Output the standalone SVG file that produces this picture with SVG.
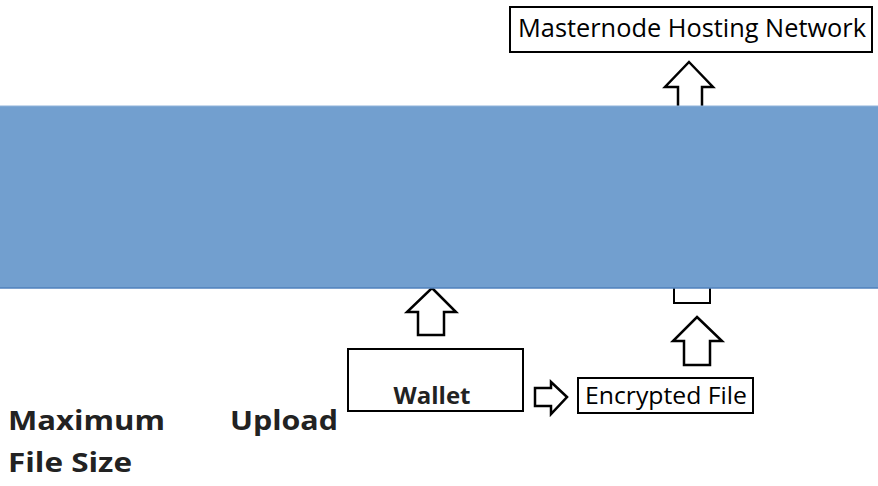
<svg xmlns="http://www.w3.org/2000/svg" width="878" height="486" viewBox="0 0 878 486">
<style>
.box{fill:#fff;stroke:#000;stroke-width:2}
.arr{fill:#fff;stroke:#000;stroke-width:2.5;stroke-linejoin:miter}
.t{font-family:"Open Sans","Noto Sans",sans-serif;fill:#000}
.b{font-family:"Open Sans","Noto Sans",sans-serif;font-weight:bold;fill:#222}
</style>
<rect width="878" height="486" fill="#fff"/>
<g id="connectors">
<path class="arr" d="M689,62 L713,87 L702,87 L702,110 L678,110 L678,87 L665,87 Z"/>
<path class="arr" d="M432,288 L456,312 L444,312 L444,335 L418,335 L418,312 L407,312 Z"/>
<path class="arr" d="M697,317 L722,341 L710,341 L710,365 L684,365 L684,341 L673,341 Z"/>
<path class="arr" d="M567,397 L551,382 L551,388 L535,388 L535,406 L551,406 L551,414 Z"/>
</g>
<g id="node-masternode">
<rect class="box" x="510" y="7" width="362" height="45" stroke-width="2.5"/>
<text class="t" x="518" y="37" font-size="26" textLength="348" lengthAdjust="spacingAndGlyphs">Masternode Hosting Network</text>
</g>
<g id="node-hidden">
<rect class="box" x="674" y="270" width="36" height="33"/>
</g>
<g id="band">
<rect x="0" y="106" width="878" height="182" fill="#729fcf"/>
<line x1="0" y1="288" x2="878" y2="288" stroke="#4f81bd" stroke-width="1.5"/>
<line x1="0" y1="106" x2="878" y2="106" stroke="#8fb3da" stroke-width="1"/>
</g>
<g id="node-wallet">
<rect class="box" x="348" y="349" width="175" height="62"/>
<text class="b" x="432" y="404" font-size="23" text-anchor="middle" textLength="77" lengthAdjust="spacingAndGlyphs">Wallet</text>
</g>
<g id="node-encrypted">
<rect class="box" x="578" y="378" width="175" height="35"/>
<text class="t" x="585" y="404" font-size="23" textLength="162" lengthAdjust="spacingAndGlyphs">Encrypted File</text>
</g>
<g id="label">
<text class="b" x="8" y="430" font-size="26" textLength="157" lengthAdjust="spacingAndGlyphs">Maximum</text>
<text class="b" x="230" y="430" font-size="26" textLength="108" lengthAdjust="spacingAndGlyphs">Upload</text>
<text class="b" x="8" y="472" font-size="26" textLength="124" lengthAdjust="spacingAndGlyphs">File Size</text>
</g>
</svg>
